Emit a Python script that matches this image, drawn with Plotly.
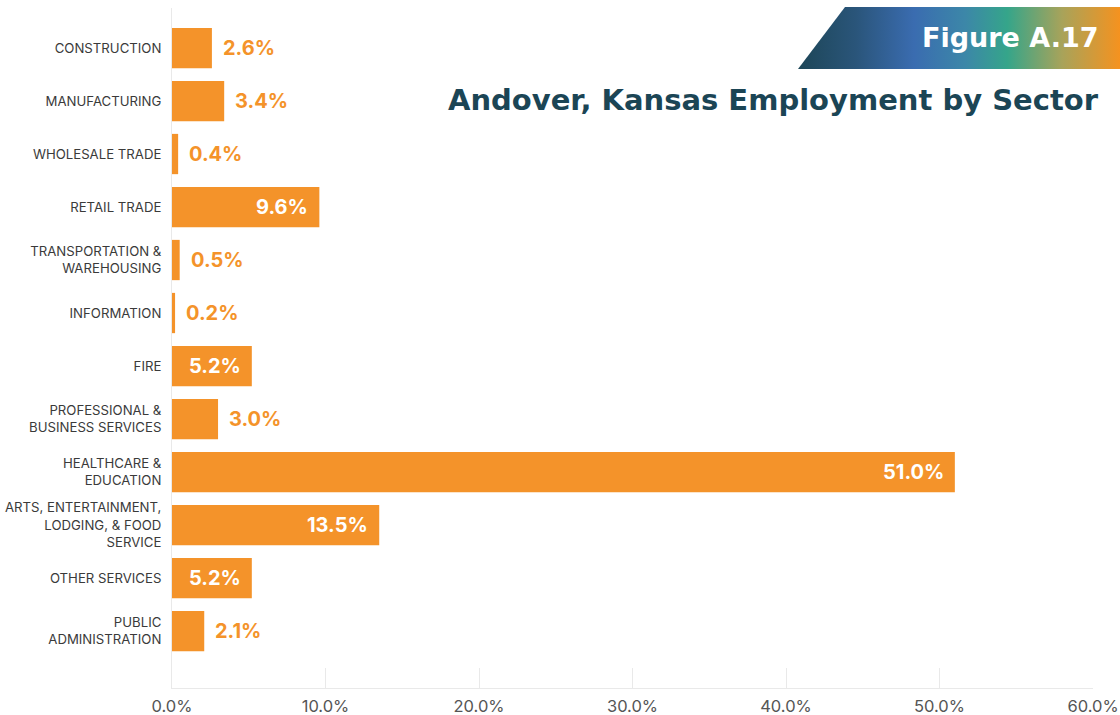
import base64
import plotly.graph_objects as go

# Employment share by sector (percent)
sectors = [
    "CONSTRUCTION",
    "MANUFACTURING",
    "WHOLESALE TRADE",
    "RETAIL TRADE",
    "TRANSPORTATION &<br>WAREHOUSING",
    "INFORMATION",
    "FIRE",
    "PROFESSIONAL &<br>BUSINESS SERVICES",
    "HEALTHCARE &<br>EDUCATION",
    "ARTS, ENTERTAINMENT,<br>LODGING, & FOOD<br>SERVICE",
    "OTHER SERVICES",
    "PUBLIC<br>ADMINISTRATION",
]
shares = [2.6, 3.4, 0.4, 9.6, 0.5, 0.2, 5.2, 3.0, 51.0, 13.5, 5.2, 2.1]
x_ticks = [0, 10, 20, 30, 40, 50, 60]
x_tick_labels = ["0.0%", "10.0%", "20.0%", "30.0%", "40.0%", "50.0%", "60.0%"]

title_text = "Andover, Kansas Employment by Sector"
figure_tag = "Figure A.17"

ORANGE = "#F4932A"
TEAL = "#1B4555"
FONT = "Inter, 'Open Sans', sans-serif"
WIDE = "'DejaVu Sans', Inter, sans-serif"

W, H = 1120, 715
M_L, M_R, M_T, M_B = 172, 27, 8, 27


def paper_x(px):
    return (px - M_L) / (W - M_L - M_R)


def paper_y(py):
    return (H - M_B - py) / (H - M_T - M_B)


fig = go.Figure(
    go.Bar(
        x=shares,
        y=sectors,
        orientation="h",
        marker=dict(color=ORANGE, line=dict(width=0)),
        width=0.76,
        hoverinfo="skip",
    )
)

# value labels: inside (white) for wide bars, outside (orange) for narrow ones
annotations = []
for name, v in zip(sectors, shares):
    inside = v >= 5
    annotations.append(
        dict(
            x=v, y=name, xref="x", yref="y",
            text=f"{v:.1f}%",
            showarrow=False,
            xanchor="right" if inside else "left",
            xshift=-9 if inside else 9,
            font=dict(family=FONT, size=20, color="white" if inside else ORANGE, weight="bold"),
        )
    )

# banner with the figure number
svg = f"""<svg xmlns='http://www.w3.org/2000/svg' width='322' height='62' viewBox='0 0 322 62'>
<defs><linearGradient id='g' x1='0' y1='0' x2='1' y2='0'>
<stop offset='0' stop-color='#1D4657'/>
<stop offset='0.18' stop-color='#2A557A'/>
<stop offset='0.36' stop-color='#3A6CB0'/>
<stop offset='0.52' stop-color='#3C87A8'/>
<stop offset='0.65' stop-color='#35A58A'/>
<stop offset='0.82' stop-color='#A8A35A'/>
<stop offset='1' stop-color='#F5921F'/>
</linearGradient></defs>
<polygon points='47,0 322,0 322,62 0,62' fill='url(#g)'/>
</svg>"""
src = "data:image/svg+xml;base64," + base64.b64encode(svg.encode()).decode()

images = [
    dict(
        source=src, xref="paper", yref="paper",
        x=paper_x(798), y=paper_y(7),
        sizex=paper_x(1120) - paper_x(798), sizey=paper_y(7) - paper_y(69),
        xanchor="left", yanchor="top", sizing="stretch", layer="above",
    )
]

annotations.append(
    dict(
        x=paper_x(1101), y=paper_y(38), xref="paper", yref="paper",
        text=figure_tag, showarrow=False, xanchor="right", yanchor="middle",
        font=dict(family=WIDE, size=27, color="white", weight="bold"),
    )
)
annotations.append(
    dict(
        x=paper_x(1101), y=paper_y(100), xref="paper", yref="paper",
        text=title_text, showarrow=False, xanchor="right", yanchor="middle",
        font=dict(family=WIDE, size=29, color=TEAL, weight="bold"),
    )
)

fig.update_layout(
    width=W, height=H,
    margin=dict(l=M_L, r=M_R, t=M_T, b=M_B, autoexpand=False),
    paper_bgcolor="white", plot_bgcolor="white",
    showlegend=False,
    annotations=annotations,
    images=images,
    font=dict(family=FONT),
)
fig.update_xaxes(
    range=[0, 60],
    tickvals=x_ticks, ticktext=x_tick_labels,
    showgrid=False, zeroline=False,
    showline=True, linecolor="#E9E9E9", linewidth=1,
    ticks="inside", ticklen=20, tickcolor="#E9E9E9", tickwidth=1,
    tickfont=dict(family=FONT, size=16.5, color="#555555"),
    ticklabelstandoff=3,
    automargin=False,
    fixedrange=True,
)
fig.update_yaxes(
    type="category",
    categoryorder="array", categoryarray=sectors,
    range=[12.075, -0.755],
    showgrid=False, zeroline=False,
    showline=True, linecolor="#E9E9E9", linewidth=1,
    ticks="", ticklabelstandoff=7,
    tickfont=dict(family=FONT, size=13.2, color="#3A3A3A"),
    automargin=False,
    fixedrange=True,
)

fig.write_html("out.html")
